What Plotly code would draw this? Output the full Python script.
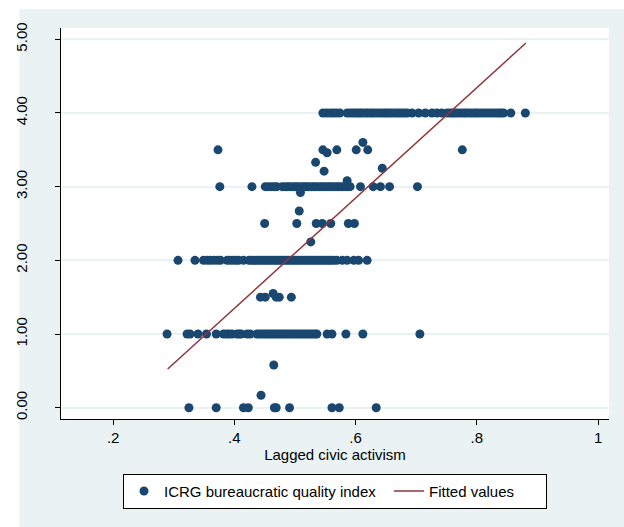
import plotly.graph_objects as go

# ---- data ----
q4_x = [0.546, 0.552, 0.558, 0.563, 0.568, 0.574, 0.586, 0.591, 0.596, 0.600, 0.604, 0.608,
        0.612, 0.617, 0.621, 0.626, 0.630, 0.635, 0.640, 0.645, 0.649, 0.653, 0.657, 0.662,
        0.667, 0.671, 0.676, 0.681, 0.685, 0.693, 0.704, 0.715, 0.726, 0.734, 0.742, 0.751,
        0.756, 0.760, 0.764, 0.768, 0.773, 0.778, 0.782, 0.787, 0.792, 0.797, 0.801, 0.806,
        0.811, 0.816, 0.821, 0.826, 0.831, 0.836, 0.840, 0.844, 0.856, 0.880]
q3_x = [0.376, 0.429, 0.451, 0.456, 0.461, 0.466, 0.470, 0.479, 0.484, 0.488, 0.492, 0.497,
        0.501, 0.505, 0.510, 0.514, 0.518, 0.522, 0.527, 0.531, 0.535, 0.540, 0.544, 0.548,
        0.553, 0.557, 0.561, 0.566, 0.570, 0.574, 0.578, 0.583, 0.587, 0.591, 0.608, 0.629,
        0.641, 0.656, 0.702]
q2_x = [0.307, 0.335, 0.349, 0.355, 0.360, 0.366, 0.372, 0.377, 0.388, 0.393, 0.398, 0.403,
        0.407, 0.415, 0.424, 0.428, 0.432, 0.436, 0.440, 0.444, 0.448, 0.452, 0.456, 0.460,
        0.464, 0.468, 0.472, 0.476, 0.480, 0.484, 0.488, 0.492, 0.496, 0.500, 0.504, 0.508,
        0.512, 0.516, 0.520, 0.524, 0.528, 0.532, 0.536, 0.540, 0.544, 0.548, 0.552, 0.556,
        0.560, 0.564, 0.569, 0.578, 0.586, 0.597, 0.605, 0.619]
q1_x = [0.289, 0.322, 0.327, 0.340, 0.354, 0.370, 0.382, 0.387, 0.391, 0.396, 0.404, 0.408,
        0.411, 0.421, 0.426, 0.437, 0.441, 0.445, 0.449, 0.453, 0.457, 0.461, 0.465, 0.469,
        0.473, 0.477, 0.481, 0.485, 0.489, 0.493, 0.497, 0.501, 0.505, 0.509, 0.513, 0.517,
        0.521, 0.525, 0.529, 0.533, 0.536, 0.553, 0.561, 0.584, 0.612, 0.706]
q0_x = [0.325, 0.370, 0.415, 0.423, 0.466, 0.469, 0.491, 0.561, 0.573, 0.634]
other_x = [0.373, 0.546, 0.553, 0.569, 0.601, 0.612, 0.620, 0.776, 0.534, 0.548, 0.644,
           0.586, 0.509, 0.507, 0.450, 0.503, 0.535, 0.545, 0.559, 0.588, 0.598, 0.526,
           0.443, 0.451, 0.464, 0.469, 0.474, 0.494, 0.465, 0.444]
other_y = [3.50, 3.50, 3.46, 3.50, 3.50, 3.60, 3.50, 3.50, 3.33, 3.21, 3.25,
           3.08, 2.92, 2.67, 2.50, 2.50, 2.50, 2.50, 2.50, 2.50, 2.50, 2.25,
           1.50, 1.50, 1.55, 1.50, 1.50, 1.50, 0.58, 0.17]
fit_x = [0.290, 0.881]
fit_y = [0.525, 4.95]

y_ticks = [0, 1, 2, 3, 4, 5]
y_tick_text = ["0.00", "1.00", "2.00", "3.00", "4.00", "5.00"]
x_ticks = [0.2, 0.4, 0.6, 0.8, 1.0]
x_tick_text = [".2", ".4", ".6", ".8", "1"]

# ---- build ----
sx, sy = [], []
for level, xs in [(4.0, q4_x), (3.0, q3_x), (2.0, q2_x), (1.0, q1_x), (0.0, q0_x)]:
    sx += xs
    sy += [level] * len(xs)
sx += other_x
sy += other_y

NAVY = "#1A476F"
MAROON = "#90353B"
BG = "#EAF2F3"
FONT = "Liberation Sans, Arial, sans-serif"

fig = go.Figure()
fig.add_trace(go.Scatter(x=sx, y=sy, mode="markers",
                         marker=dict(color=NAVY, size=9, line=dict(width=0)),
                         name="ICRG bureaucratic quality index", legendwidth=220))
fig.add_trace(go.Scatter(x=fit_x, y=fit_y, mode="lines",
                         line=dict(color=MAROON, width=1.5),
                         name="Fitted values", legendwidth=112))

fig.update_layout(
    width=624, height=527,
    margin=dict(l=61, r=15, t=28, b=108),
    paper_bgcolor="white",
    plot_bgcolor="white",
    font=dict(family=FONT, size=15, color="black"),
    showlegend=True,
    legend=dict(orientation="h", x=0.5, xanchor="center", y=-0.14, yanchor="top",
                bordercolor="black", borderwidth=1, bgcolor="white",
                font=dict(size=15)),
    shapes=[
        dict(type="rect", xref="paper", yref="paper", x0=-0.076, x1=1.03, y0=-0.3, y1=1.0486,
             fillcolor=BG, line=dict(width=0), layer="below"),
        dict(type="rect", xref="paper", yref="paper", x0=0, x1=1, y0=0, y1=1,
             fillcolor="white", line=dict(width=0), layer="below"),
    ],
)
fig.update_xaxes(range=[0.114, 1.018], tickvals=x_ticks, ticktext=x_tick_text,
                 showgrid=False, zeroline=False, showline=True, linecolor="black", linewidth=1,
                 ticks="outside", ticklen=5, tickcolor="black", tickfont=dict(size=15),
                 title=dict(text="Lagged civic activism", font=dict(size=15), standoff=3))
fig.update_yaxes(range=[-0.153, 5.153], tickvals=y_ticks, ticktext=y_tick_text,
                 showgrid=True, gridcolor=BG, gridwidth=1.5, zeroline=False,
                 showline=True, linecolor="black", linewidth=1,
                 ticks="outside", ticklen=5, tickcolor="black", tickangle=-90,
                 tickfont=dict(size=15), ticklabelstandoff=22)

fig.write_html("out.html", config={"displayModeBar": False},
               post_script="document.body.style.margin='0';")
